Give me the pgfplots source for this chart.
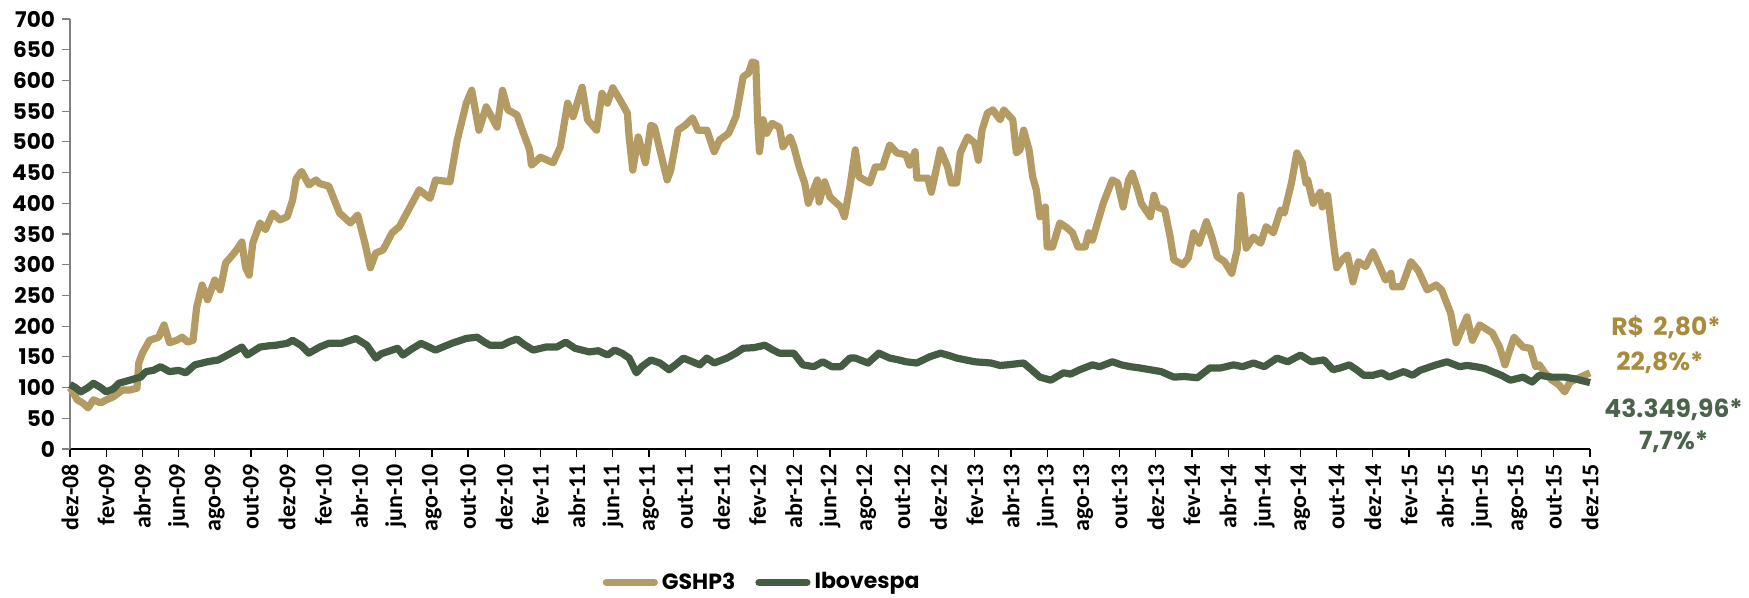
\documentclass[border=0pt]{standalone}
\usepackage{pgfplots}
\pgfplotsset{compat=1.18}
\usepackage{fontspec}
\setmainfont{Poppins}
\newfontfamily\calib{Carlito}
\definecolor{gold}{HTML}{B39B63}
\definecolor{goldtxt}{HTML}{A88B3C}
\definecolor{ibov}{HTML}{435C42}
\definecolor{ibovtxt}{HTML}{4B634A}
\begin{document}
\begin{tikzpicture}
\path[use as bounding box] (-35pt,-74.5pt) rectangle (839.5pt,224.5pt);
\begin{axis}[
  scale only axis,
  width=760pt, height=215pt,
  xmin=0, xmax=84, ymin=0, ymax=700,
  axis lines*=left,
  x axis line style={black, line width=0.8pt},
  y axis line style={gray, line width=0.8pt},
  xtick={0,2,...,84},
  xticklabels={dez-08,fev-09,abr-09,jun-09,ago-09,out-09,dez-09,fev-10,abr-10,jun-10,ago-10,out-10,dez-10,fev-11,abr-11,jun-11,ago-11,out-11,dez-11,fev-12,abr-12,jun-12,ago-12,out-12,dez-12,fev-13,abr-13,jun-13,ago-13,out-13,dez-13,fev-14,abr-14,jun-14,ago-14,out-14,dez-14,fev-15,abr-15,jun-15,ago-15,out-15,dez-15},
  ytick={0,50,...,700},
  tick align=outside,
  major tick length=4pt,
  x tick style={black, line width=0.6pt},
  y tick style={gray, line width=0.6pt},
  /pgf/number format/assume math mode=true,
  xticklabel style={font=\calib\bfseries\fontsize{12}{13}\selectfont, rotate=90, anchor=east},
  yticklabel style={font=\bfseries\fontsize{10.8}{12}\selectfont},
  legend style={at={(0.456,-0.31)}, anchor=center, legend columns=2, draw=none,
    font=\bfseries\fontsize{11}{12}\selectfont,
    /tikz/every even column/.append style={column sep=8pt}},
  legend image code/.code={\draw[#1, line width=3.6pt, line cap=round] (0pt,0pt) -- (24pt,0pt);},
  clip=false,
]
\addplot[gold, line width=3.6pt, line join=round] coordinates {
(0,100) (0.1,96) (0.4,80) (0.7,75) (1.0,67) (1.3,80) (1.7,75) (2.0,80) (2.4,85) (2.9,96) (3.3,96) (3.7,99) (3.8,140) (4.0,156) (4.4,177) (4.9,182) (5.0,189) (5.2,202) (5.5,173) (5.9,177) (6.2,182) (6.5,174) (6.8,177) (7.0,231) (7.3,267) (7.6,243) (8.0,275) (8.3,259) (8.6,303) (8.9,313) (9.2,324) (9.5,337) (9.7,296) (9.9,283) (10.1,335) (10.5,368) (10.8,357) (11.2,384) (11.6,373) (12.0,378) (12.3,405) (12.5,440) (12.8,452) (13.2,430) (13.6,438) (13.8,432) (14.3,428) (14.9,384) (15.5,368) (15.9,381) (16.3,335) (16.6,295) (16.9,319) (17.3,324) (17.8,352) (18.2,362) (18.7,389) (19.3,422) (19.9,408) (20.2,438) (21.0,435) (21.4,503) (21.9,563) (22.2,584) (22.6,519) (23.0,557) (23.6,524) (23.9,584) (24.2,552) (24.7,544) (25.0,519) (25.4,487) (25.5,462) (26.0,475) (26.7,466) (27.1,492) (27.5,563) (27.8,541) (28.3,589) (28.6,536) (29.1,519) (29.4,579) (29.7,563) (30.0,588) (30.4,568) (30.8,547) (30.9,508) (31.1,454) (31.4,508) (31.6,487) (31.8,466) (32.1,527) (32.3,524) (32.6,487) (33.0,438) (33.2,454) (33.6,519) (34.0,527) (34.4,539) (34.7,519) (35.2,519) (35.6,484) (35.9,503) (36.4,514) (36.8,541) (37.0,573) (37.2,606) (37.5,612) (37.7,630) (37.9,628) (38.0,536) (38.1,484) (38.3,536) (38.5,514) (38.8,530) (39.2,524) (39.4,492) (39.8,508) (40.0,492) (40.3,459) (40.6,433) (40.8,400) (41.3,438) (41.4,402) (41.7,435) (42.0,410) (42.6,394) (42.8,378) (43.1,427) (43.4,487) (43.6,443) (44.2,433) (44.5,459) (44.9,459) (45.3,495) (45.7,482) (46.2,479) (46.4,462) (46.7,484) (46.8,441) (47.4,441) (47.6,418) (48.1,487) (48.5,459) (48.7,433) (49.0,433) (49.2,482) (49.6,508) (50.0,498) (50.2,470) (50.4,519) (50.7,547) (51.0,552) (51.4,536) (51.6,552) (52.1,536) (52.3,482) (52.5,487) (52.7,519) (53.0,487) (53.2,443) (53.4,422) (53.6,378) (53.9,394) (54.0,329) (54.3,329) (54.7,368) (55.1,360) (55.4,352) (55.7,329) (56.1,329) (56.3,352) (56.5,340) (57.1,400) (57.6,438) (57.9,433) (58.2,394) (58.5,438) (58.7,449) (59.0,422) (59.2,400) (59.7,378) (59.9,413) (60.1,394) (60.5,389) (60.8,345) (61.0,308) (61.5,300) (61.8,311) (62.1,352) (62.4,335) (62.8,370) (63.1,345) (63.4,313) (63.8,305) (64.2,286) (64.5,324) (64.7,413) (64.8,384) (65.0,327) (65.4,345) (65.8,335) (66.1,362) (66.5,352) (66.9,389) (67.1,384) (67.5,433) (67.8,482) (68.1,466) (68.3,433) (68.4,438) (68.7,400) (69.1,418) (69.2,394) (69.5,413) (69.8,340) (70.0,295) (70.3,308) (70.6,316) (70.9,272) (71.2,305) (71.6,297) (72.0,321) (72.3,302) (72.7,275) (73.0,286) (73.1,264) (73.6,264) (74.1,305) (74.5,291) (75.0,259) (75.5,267) (75.8,259) (76.3,221) (76.6,173) (77.2,215) (77.5,177) (77.9,202) (78.6,189) (79.0,166) (79.3,137) (79.8,182) (80.3,166) (80.7,164) (81.0,134) (81.2,137) (81.5,124) (81.9,112) (82.3,104) (82.6,93) (82.9,109) (83.4,116) (84,124)
};
\addlegendentry{GSHP3}
\addplot[ibov, line width=3.6pt, line join=round] coordinates {
(0,105) (0.3,100) (0.6,93) (1.0,100) (1.3,107) (1.7,100) (2.0,93) (2.4,98) (2.7,107) (3.3,112) (3.9,117) (4.2,126) (4.6,128) (5.0,134) (5.5,126) (6.0,128) (6.4,124) (6.9,137) (7.6,142) (8.2,145) (8.9,156) (9.5,166) (9.8,153) (10.5,166) (11.0,168) (11.4,169) (12.0,172) (12.3,177) (12.8,168) (13.2,156) (13.8,166) (14.3,172) (15.0,172) (15.8,180) (16.4,169) (16.9,148) (17.2,155) (17.5,158) (18.1,164) (18.4,153) (18.9,163) (19.4,172) (20.2,161) (20.6,166) (21.1,172) (21.9,180) (22.5,182) (22.9,174) (23.2,169) (23.9,169) (24.3,175) (24.7,179) (25.1,170) (25.6,161) (26.3,166) (26.9,166) (27.4,174) (27.9,164) (28.3,161) (28.7,158) (29.2,160) (29.7,153) (30.1,161) (30.5,156) (30.9,148) (31.3,124) (31.6,134) (32.1,145) (32.6,140) (33.1,129) (33.5,138) (33.9,148) (34.4,142) (34.8,137) (35.2,148) (35.6,140) (36.3,148) (36.8,156) (37.2,164) (37.8,165) (38.4,169) (38.8,162) (39.2,156) (40.0,156) (40.5,137) (41.1,134) (41.6,142) (42.1,134) (42.6,134) (43.1,148) (43.4,148) (44.1,140) (44.7,156) (45.3,148) (45.8,145) (46.2,142) (46.8,140) (47.5,150) (48.1,156) (48.6,152) (49.0,148) (50.0,142) (50.9,140) (51.4,136) (51.8,137) (52.7,140) (53.1,130) (53.6,117) (54.2,112) (54.9,124) (55.3,122) (55.8,129) (56.5,137) (56.9,134) (57.6,142) (58.1,137) (58.6,134) (59.1,132) (59.7,129) (60.3,126) (61.0,117) (61.6,118) (62.3,116) (63.0,132) (63.6,132) (64.3,137) (64.8,134) (65.4,140) (66.0,134) (66.7,148) (67.3,142) (68.0,153) (68.6,142) (69.3,145) (69.8,129) (70.2,132) (70.7,137) (71.1,129) (71.5,120) (72.0,120) (72.5,124) (72.9,117) (73.7,126) (74.2,120) (74.6,128) (75.0,132) (75.5,137) (76.1,142) (76.8,134) (77.2,136) (77.7,134) (78.2,131) (78.6,126) (79.1,120) (79.6,112) (80.3,117) (80.8,109) (81.2,120) (81.9,117) (82.6,117) (83.2,114) (84,108)
};
\addlegendentry{Ibovespa}
\node[goldtxt, font=\bfseries\fontsize{12.5}{14}\selectfont] at (rel axis cs:1.05,0.284) {R\$ \,2,80*};
\node[goldtxt, font=\bfseries\fontsize{12.5}{14}\selectfont] at (rel axis cs:1.046,0.2) {22,8\%*};
\node[ibovtxt, font=\bfseries\fontsize{12.5}{14}\selectfont] at (rel axis cs:1.055,0.091) {43.349,96*};
\node[ibovtxt, font=\bfseries\fontsize{12.5}{14}\selectfont] at (rel axis cs:1.055,0.016) {7,7\%*};
\end{axis}
\end{tikzpicture}
\end{document}
